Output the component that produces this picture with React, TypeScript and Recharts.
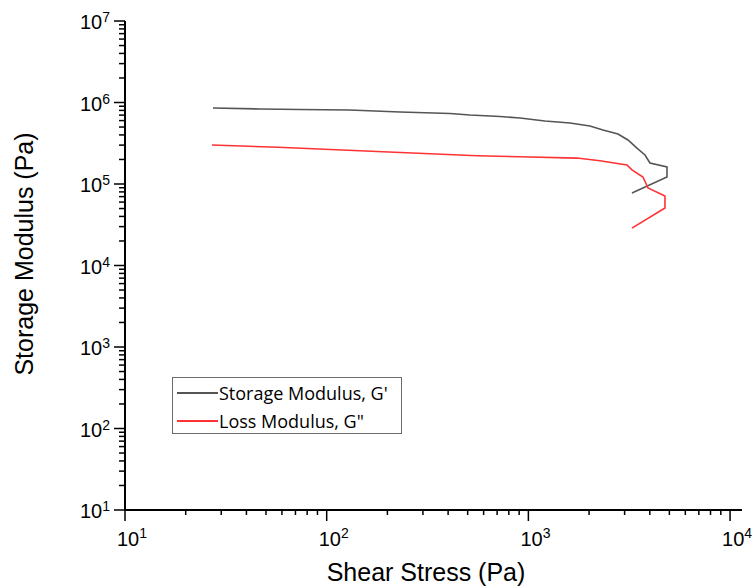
import { Legend, Line, LineChart, XAxis, YAxis } from 'recharts'

// Shear stress (Pa) and moduli (Pa) along the stress sweep, in measurement order
const storageStress = [27.3, 46.7, 73.7, 130, 231, 409, 513, 723, 909, 1208, 1608, 2020, 2343, 2781, 3117, 3454, 3786, 4008, 4867, 4867, 3263]
const storageModulus = [856000, 832000, 821000, 809000, 765000, 733000, 702000, 673000, 645000, 593000, 560000, 515000, 460000, 411000, 347000, 276000, 227000, 181000, 162000, 122000, 77600]

const lossStress = [27.0, 57.4, 190, 556, 909, 1742, 2264, 3082, 3263, 3700, 3917, 4757, 4757, 3263]
const lossModulus = [301000, 282000, 249000, 222000, 216000, 208000, 193000, 171000, 149000, 122000, 89300, 71300, 50800, 28800]

const seriesNames = ["Storage Modulus, G'", 'Loss Modulus, G"']

const xDecades = [10, 100, 1000, 10000]
const yDecades = [10, 100, 1000, 10000, 100000, 1000000, 10000000]
const minorSteps = [2, 3, 4, 5, 6, 7, 8, 9]

const withMinors = (decades: number[]) =>
  decades.flatMap((d, i) =>
    i < decades.length - 1 ? [d, ...minorSteps.map((m) => d * m)] : [d],
  )

const storageData = storageStress.map((x, i) => ({ x, y: storageModulus[i] }))
const lossData = lossStress.map((x, i) => ({ x, y: lossModulus[i] }))

const TICK_FONT = '"Liberation Sans", Arial, sans-serif'

const isDecade = (v: number) => Math.abs(Math.log10(v) - Math.round(Math.log10(v))) < 1e-9

function XTick({ x, y, payload }: any) {
  const v = payload.value
  const major = isDecade(v)
  return (
    <g>
      <line x1={x} x2={x} y1={y} y2={y + (major ? 11 : 5)} stroke="#000" strokeWidth={1.5} />
      {major && (
        <text x={x - 8} y={y + 36} fontFamily={TICK_FONT} fontSize={20} fill="#000">
          10
          <tspan dy={-8} fontSize={14}>
            {Math.round(Math.log10(v))}
          </tspan>
        </text>
      )}
    </g>
  )
}

function YTick({ x, y, payload }: any) {
  const v = payload.value
  const major = isDecade(v)
  return (
    <g>
      <line x1={x - (major ? 11 : 6)} x2={x} y1={y} y2={y} stroke="#000" strokeWidth={1.5} />
      {major && (
        <text x={x - 15} y={y + 8} textAnchor="end" fontFamily={TICK_FONT} fontSize={20} fill="#000">
          10
          <tspan dy={-7} fontSize={14}>
            {Math.round(Math.log10(v))}
          </tspan>
        </text>
      )}
    </g>
  )
}

function LegendBox({ payload }: any) {
  // keep the series order instead of the legend's alphabetical sort
  const items = seriesNames
    .map((name) => (payload ?? []).find((p: any) => p.value === name))
    .filter(Boolean)
  return (
    <div
      style={{
        boxSizing: 'border-box',
        width: 230,
        height: 57,
        border: '1px solid #6b6b6b',
        background: '#fff',
        paddingTop: 1,
        paddingLeft: 4,
      }}
    >
      {items.map((entry: any) => (
        <div key={entry.value} style={{ display: 'flex', alignItems: 'center', height: 28 }}>
          <svg width={41} height={4} style={{ display: 'block' }}>
            <line x1={0} x2={41} y1={2} y2={2} stroke={entry.color} strokeWidth={2} />
          </svg>
          <span
            style={{
              marginLeft: 1,
              fontFamily: '"Open Sans", sans-serif',
              fontSize: 18,
              color: '#000',
              lineHeight: '28px',
              whiteSpace: 'nowrap',
            }}
          >
            {entry.value}
          </span>
        </div>
      ))}
    </div>
  )
}

export default function App() {
  return (
    <div style={{ position: 'absolute', left: 0, top: 0, background: '#fff' }}>
      <LineChart width={753} height={587} margin={{ top: 21, right: 11, bottom: 0, left: 0 }}>
        <XAxis
          dataKey="x"
          type="number"
          scale="log"
          domain={[10, 11460]}
          allowDataOverflow
          ticks={withMinors(xDecades)}
          interval={0}
          tickSize={0}
          tickMargin={0}
          tickLine={false}
          tick={<XTick />}
          axisLine={{ stroke: '#000', strokeWidth: 2 }}
          height={77}
          label={{
            content: () => (
              <text x={426} y={581} textAnchor="middle" fontFamily={TICK_FONT} fontSize={25} fill="#000">
                Shear Stress (Pa)
              </text>
            ),
          }}
        />
        <YAxis
          dataKey="y"
          type="number"
          scale="log"
          domain={[10, 10000000]}
          allowDataOverflow
          ticks={withMinors(yDecades)}
          interval={0}
          tickSize={0}
          tickMargin={0}
          tickLine={false}
          tick={<YTick />}
          axisLine={{ stroke: '#000', strokeWidth: 2 }}
          width={125}
          label={{
            content: () => (
              <text
                x={33}
                y={254}
                transform="rotate(-90 33 254)"
                textAnchor="middle"
                fontFamily={TICK_FONT}
                fontSize={25}
                fill="#000"
              >
                Storage Modulus (Pa)
              </text>
            ),
          }}
        />
        <Legend
          layout="vertical"
          align="center"
          verticalAlign="middle"
          content={<LegendBox />}
          wrapperStyle={{ position: 'absolute', left: 172, top: 377, width: 230, height: 57 }}
        />
        <Line
          data={storageData}
          dataKey="y"
          name={seriesNames[0]}
          type="linear"
          stroke="#555555"
          strokeWidth={1.6}
          dot={false}
          isAnimationActive={false}
        />
        <Line
          data={lossData}
          dataKey="y"
          name={seriesNames[1]}
          type="linear"
          stroke="#ff3333"
          strokeWidth={1.6}
          dot={false}
          isAnimationActive={false}
        />
      </LineChart>
    </div>
  )
}
